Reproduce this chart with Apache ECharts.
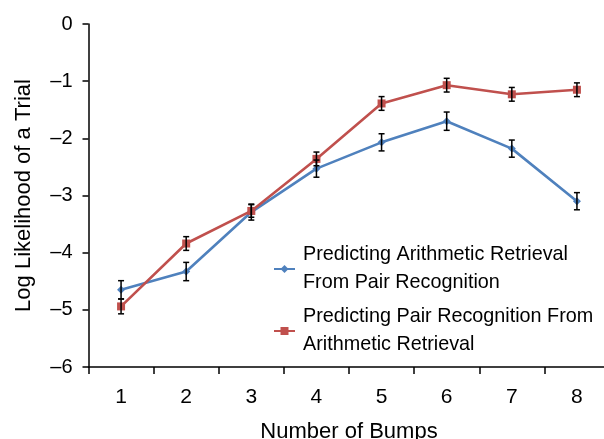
<!DOCTYPE html>
<html><head><meta charset="utf-8">
<script src="https://cdn.jsdelivr.net/npm/echarts@6/dist/echarts.min.js"></script>
<style>html,body{margin:0;padding:0;background:#fff}#c{width:604px;height:439px}</style>
</head><body><div id="c"></div>
<script>
const categories = ['1','2','3','4','5','6','7','8'];
const yTicks = [0,-1,-2,-3,-4,-5,-6];
const blueName = 'Predicting Arithmetic Retrieval\nFrom Pair Recognition';
const redName = 'Predicting Pair Recognition From\nArithmetic Retrieval';
const blueVals = [-4.65,-4.33,-3.29,-2.53,-2.07,-1.70,-2.18,-3.10];
const blueErr  = [0.16,0.16,0.14,0.15,0.15,0.16,0.15,0.15];
const redVals  = [-4.94,-3.84,-3.27,-2.36,-1.39,-1.07,-1.23,-1.15];
const redErr   = [0.13,0.12,0.11,0.12,0.12,0.12,0.12,0.12];

const FONT = '"Liberation Sans Narrow", "Liberation Sans", Arial, sans-serif';
const BLUE = '#4f81bd', RED = '#c0504d';

function errData(vals, errs){ return vals.map((v,i)=>[i, v-errs[i], v+errs[i]]); }
function errRender(params, api){
  const x = api.value(0);
  const lo = api.coord([x, api.value(1)]);
  const hi = api.coord([x, api.value(2)]);
  const w = 3;
  const st = {stroke:'#000', lineWidth:1.5};
  return {type:'group', children:[
    {type:'line', shape:{x1:lo[0],y1:lo[1],x2:hi[0],y2:hi[1]}, style:st},
    {type:'line', shape:{x1:lo[0]-w,y1:lo[1],x2:lo[0]+w,y2:lo[1]}, style:st},
    {type:'line', shape:{x1:hi[0]-w,y1:hi[1],x2:hi[0]+w,y2:hi[1]}, style:st}
  ]};
}

const chart = echarts.init(document.getElementById('c'));
const legendText = {fontFamily:FONT, fontSize:19.8, color:'#000', lineHeight:28, padding:[28,0,0,3]};
chart.setOption({
  animation:false,
  backgroundColor:'#fff',
  textStyle:{fontFamily:FONT},
  grid:{left:88.5, right:-5.5, top:24, bottom:72, containLabel:false, outerBoundsMode:'none'},
  legend:[
    {data:[blueName], orient:'vertical', left:273, top:227, padding:0, itemWidth:21, itemHeight:10, itemGap:0, textStyle:legendText},
    {data:[redName], orient:'vertical', left:273, top:289, padding:0, itemWidth:21, itemHeight:10, itemGap:0, textStyle:legendText}
  ],
  xAxis:{
    type:'category', data:categories, boundaryGap:true,
    name:'Number of Bumps', nameLocation:'middle', nameGap:54,
    nameTextStyle:{fontFamily:FONT, fontSize:22, color:'#000'},
    axisLine:{onZero:false, lineStyle:{color:'#000', width:1.5}},
    axisTick:{show:true, length:7, lineStyle:{color:'#000', width:1.5}},
    axisLabel:{fontFamily:FONT, fontSize:21, color:'#000', margin:20},
    splitLine:{show:false}
  },
  yAxis:{
    type:'value', min:-6, max:0, interval:1,
    name:'Log Likelihood of a Trial', nameLocation:'middle', nameGap:54,
    nameTextStyle:{fontFamily:FONT, fontSize:22, color:'#000'},
    axisLine:{show:true, onZero:false, lineStyle:{color:'#000', width:1.5}},
    axisTick:{show:true, length:6, lineStyle:{color:'#000', width:1.5}},
    axisLabel:{fontFamily:FONT, fontSize:20, color:'#000', margin:16,
      formatter:v=> yTicks.includes(v) ? String(v).replace('-', '\u2013') : ''},
    splitLine:{show:false}
  },
  series:[
    {name:blueName, type:'line', data:blueVals, symbol:'diamond', symbolSize:8,
     lineStyle:{color:BLUE, width:2.6}, itemStyle:{color:BLUE}, z:2},
    {name:redName, type:'line', data:redVals, symbol:'rect', symbolSize:8,
     lineStyle:{color:RED, width:2.6}, itemStyle:{color:RED}, z:3},
    {type:'custom', data:errData(blueVals, blueErr), renderItem:errRender, z:5, silent:true},
    {type:'custom', data:errData(redVals, redErr), renderItem:errRender, z:5, silent:true}
  ]
});
</script></body></html>
